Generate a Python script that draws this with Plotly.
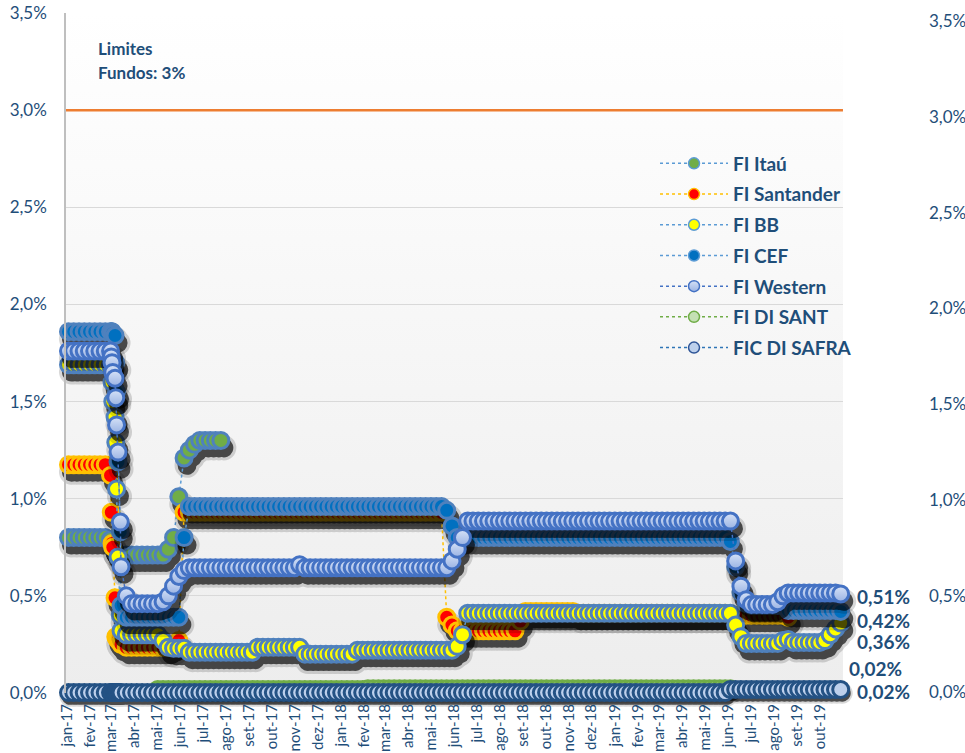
import base64
import pandas as pd
import plotly.graph_objects as go

# ---------------------------------------------------------------- data
# weekly observations + a few extra days around the March-2017 drop
WEEKS = pd.date_range("2017-01-03", periods=148, freq="7D")
DROP_DAYS = pd.to_datetime(["2017-03-01", "2017-03-02", "2017-03-03", "2017-03-06",
                            "2017-03-08", "2017-03-10", "2017-03-13"])
DATES = WEEKS.union(DROP_DAYS)

MONTH_STARTS = pd.date_range("2017-01-01", periods=34, freq="MS")
MONTH_LABELS = ["jan-17", "fev-17", "mar-17", "abr-17", "mai-17", "jun-17", "jul-17", "ago-17",
                "set-17", "out-17", "nov-17", "dez-17", "jan-18", "fev-18", "mar-18", "abr-18",
                "mai-18", "jun-18", "jul-18", "ago-18", "set-18", "out-18", "nov-18", "dez-18",
                "jan-19", "fev-19", "mar-19", "abr-19", "mai-19", "jun-19", "jul-19", "ago-19",
                "set-19", "out-19"]

LIMIT = 3.0  # % limite fundos

FI_ITAU = ([0.80] * 8
           + [0.79, 0.77, 0.76, 0.75, 0.73, 0.72, 0.72, 0.71, 0.71, 0.71]
           + [0.71] * 8 + [0.74, 0.80, 1.01, 1.21, 1.25, 1.28] + [1.30] * 5 + [None] * 118)

FI_SANTANDER = ([1.175] * 8
                + [1.12, 0.93, 0.77, 0.75, 0.49, 0.29, 0.28, 0.27, 0.26, 0.25]
                + [0.235] * 9 + [0.25, 0.27] + [0.93] * 50 + [0.39, 0.35] + [0.32] * 12
                + [0.37] + [0.42] * 10 + [0.41] * 29 + [0.405] + [0.40] * 10 + [0.39] + [None] * 10)

FI_BB = ([1.69] * 8
         + [1.69, 1.68, 1.60, 1.50, 1.42, 1.29, 1.05, 0.70, 0.40, 0.32]
         + [0.30] * 7 + [0.27, 0.235] + [0.23] * 3 + [0.21] * 13 + [0.235] * 9 + [0.20] * 10
         + [0.22] * 19 + [0.24, 0.30] + [0.41] * 51 + [0.35, 0.29] + [0.255] * 7
         + [0.27, 0.275] + [0.26] * 6 + [0.27, 0.30, 0.33, 0.36])

FI_CEF = ([1.86] * 8
          + [1.86, 1.86, 1.86, 1.85, 1.84, 1.70, 1.55, 1.19, 0.83, 0.45]
          + [0.39] * 11 + [0.80] + [0.96] * 49 + [0.94, 0.86] + [0.80] * 52
          + [0.78, 0.65, 0.52, 0.46] + [0.45] * 7 + [0.425] * 10 + [0.42])

FI_WESTERN = ([1.76] * 8
              + [1.76, 1.73, 1.70, 1.65, 1.62, 1.52, 1.38, 1.24, 0.88, 0.65]
              + [0.50] + [0.46] * 6 + [0.47, 0.50, 0.55, 0.60, 0.63] + [0.645] * 21 + [0.66]
              + [0.645] * 28 + [0.68, 0.74, 0.80] + [0.885] * 51 + [0.68, 0.55, 0.48]
              + [0.455] * 5 + [0.47, 0.50] + [0.515] * 10 + [0.51])

FI_DI_SANT = [None] * 8 + [None] * 10 + [None] * 6 + [0.018] * 40 + [0.022] * 70 + [None] * 21

FIC_DI_SAFRA = [0.002] * 8 + [0.002] * 10 + [0.002] * 115 + [0.018] * 22

SERIES_NAMES = ["FI Itaú", "FI Santander", "FI BB", "FI CEF", "FI Western", "FI DI SANT", "FIC DI SAFRA"]
SERIES_VALUES = [FI_ITAU, FI_SANTANDER, FI_BB, FI_CEF, FI_WESTERN, FI_DI_SANT, FIC_DI_SAFRA]

# ---------------------------------------------------------------- styles
TXT = "#1F4E79"
STYLES = {
    "FI Itaú":      dict(fill="#70AD47", edge="#4F81BD", line="#5B9BD5", ledge="#5B9BD5"),
    "FI Santander": dict(fill="#FF0000", edge="#FFC000", line="#FFC000", ledge="#FFC000"),
    "FI BB":        dict(fill="#FFFF00", edge="#4F81BD", line="#5B9BD5", ledge="#5B9BD5"),
    "FI CEF":       dict(fill="#0070C0", edge="#4F81BD", line="#5B9BD5", ledge="#5B9BD5"),
    "FI Western":   dict(fill="#D6E2F7", edge="#4472C4", line="#4472C4", ledge="#4472C4",
                         grad="#9AB3E3"),
    "FI DI SANT":   dict(fill="#C5E0B4", edge="#70AD47", line="#70AD47", ledge="#70AD47",
                         shadow=(4, 17, 21)),
    "FIC DI SAFRA": dict(fill="#BDD0EC", edge="#245284", line="#2E75B6", ledge="#2F5597",
                         shadow=(4, 17, 21)),
}
DEFAULT_SHADOW = (8, 19, 25)   # (standoff px, core size, soft size)
# data-label offsets (pixels) for the last value of each series
LABEL_SHIFT = {"FI Western": (14, -3), "FI CEF": (14, -9), "FI BB": (14, -18),
               "FI DI SANT": (6, 20), "FIC DI SAFRA": (14, -2)}

X_RANGE = ["2016-12-30 16:00", "2019-11-01 00:00"]
Y_RANGE = [0, 3.5]
Y2_RANGE = [-0.007, 3.542]
SHADOW_ANGLE = -22   # standoff pushes the shadow opposite to this direction (down, slightly right)

fig = go.Figure()

# right axis carrier (no data)
fig.add_trace(go.Scatter(x=[], y=[], yaxis="y2", showlegend=False, hoverinfo="skip"))

for name, vals in zip(SERIES_NAMES, SERIES_VALUES):
    st = STYLES[name]
    off, core, soft = st.get("shadow", DEFAULT_SHADOW)
    # drop shadow (marker moved a few px down-right by standoff)
    fig.add_trace(go.Scatter(
        x=DATES, y=vals, mode="markers",
        marker=dict(size=soft, color="black", line=dict(width=0), angle=SHADOW_ANGLE, standoff=off),
        opacity=0.15, showlegend=False, hoverinfo="skip", cliponaxis=False))
    fig.add_trace(go.Scatter(
        x=DATES, y=vals, mode="markers",
        marker=dict(size=core, color="black", line=dict(width=0), angle=SHADOW_ANGLE, standoff=off),
        opacity=0.65, showlegend=False, hoverinfo="skip", cliponaxis=False))
    mk = dict(size=16, color=st["fill"], line=dict(color=st["edge"], width=3))
    if "grad" in st:
        mk["gradient"] = dict(type="vertical", color=st["grad"])
    fig.add_trace(go.Scatter(
        x=DATES, y=vals, name=name, mode="lines+markers",
        line=dict(color=st["line"], width=1.5, dash="dot"),
        marker=mk, connectgaps=False, cliponaxis=False, legendgroup=name, showlegend=False))

# legend entries
for name in SERIES_NAMES:
    st = STYLES[name]
    lm = dict(size=11, color=st["fill"], line=dict(color=st["ledge"], width=1.5))
    if "grad" in st:
        lm["gradient"] = dict(type="vertical", color=st["grad"])
    fig.add_trace(go.Scatter(
        x=[None], y=[None], name=name, mode="lines+markers", legendgroup=name,
        line=dict(color=st["line"], width=1.5, dash="dot"), marker=lm))

# data labels at the end of the series
last_date = DATES[-1]
for name, vals in zip(SERIES_NAMES, SERIES_VALUES):
    if name not in LABEL_SHIFT:
        continue
    v = [u for u in vals if u is not None][-1]
    dx, dy = LABEL_SHIFT[name]
    fig.add_annotation(x=last_date, y=v, xref="x", yref="y", xanchor="left", yanchor="middle",
                       xshift=dx, yshift=dy, showarrow=False,
                       text=f"{v:.2f}".replace(".", ",") + "%",
                       font=dict(family="Lato", size=19, color=TXT, weight="bold"))

# limit line
fig.add_hline(y=LIMIT, line=dict(color="#ED7D31", width=2.5), layer="above")

fig.add_annotation(x=0.035, y=0.9485, xref="paper", yref="paper", xanchor="left", yanchor="middle",
                   text="Limites", showarrow=False,
                   font=dict(family="Lato", size=17, color=TXT, weight="bold"))
fig.add_annotation(x=0.035, y=0.9132, xref="paper", yref="paper", xanchor="left", yanchor="middle",
                   text="Fundos: 3%", showarrow=False,
                   font=dict(family="Lato", size=17, color=TXT, weight="bold"))

svg = ('<svg xmlns="http://www.w3.org/2000/svg" width="10" height="100" viewBox="0 0 10 100" '
       'preserveAspectRatio="none"><defs><linearGradient id="g" x1="0" y1="0" x2="0" y2="1">'
       '<stop offset="0" stop-color="#FFFFFF"/><stop offset="1" stop-color="#EDEDED"/>'
       '</linearGradient></defs><rect width="10" height="100" fill="url(#g)"/></svg>')
bg_src = "data:image/svg+xml;base64," + base64.b64encode(svg.encode()).decode()

axis_font = dict(family="Lato", size=17, color=TXT)
fig.update_layout(
    width=965, height=753,
    margin=dict(l=66, r=40, t=13, b=60),
    paper_bgcolor="white", plot_bgcolor="rgba(0,0,0,0)",
    separators=",.",
    font=dict(family="Lato", color=TXT),
    images=[dict(source=bg_src, xref="paper", yref="paper", x=0, y=1, sizex=0.9045, sizey=1,
                 xanchor="left", yanchor="top", sizing="stretch", layer="below")],
    legend=dict(x=0.6857, y=0.8066, xanchor="left", yanchor="top", bgcolor="rgba(0,0,0,0)",
                font=dict(family="Lato", size=19, color=TXT, weight="bold"),
                itemsizing="trace", itemwidth=68, tracegroupgap=3),
    xaxis=dict(domain=[0, 0.9045], type="date", range=X_RANGE, automargin=False,
               tickmode="array", tickvals=MONTH_STARTS, ticktext=MONTH_LABELS, tickangle=-90,
               tickfont=dict(family="Lato", size=15, color=TXT), ticklabelstandoff=7,
               showgrid=False, zeroline=False, showline=False, ticks=""),
    yaxis=dict(range=Y_RANGE, dtick=0.5, tickformat=".1f", ticksuffix="%", tickfont=axis_font,
               showgrid=True, gridcolor="#D9D9D9", gridwidth=1, zeroline=False, automargin=False,
               showline=True, linecolor="#BFBFBF", linewidth=1.5, ticks="", ticklabelstandoff=14),
    yaxis2=dict(range=Y2_RANGE, overlaying="y", side="right", anchor="free", position=1,
                dtick=0.5, tickformat=".1f", ticksuffix="%", tickfont=axis_font, automargin=False,
                showgrid=False, zeroline=False, showline=False, ticks="", ticklabelstandoff=3),
)

fig.write_html("out.html", config={"displayModeBar": False},
               post_script="document.body.style.margin='0';document.body.style.overflow='hidden';")
